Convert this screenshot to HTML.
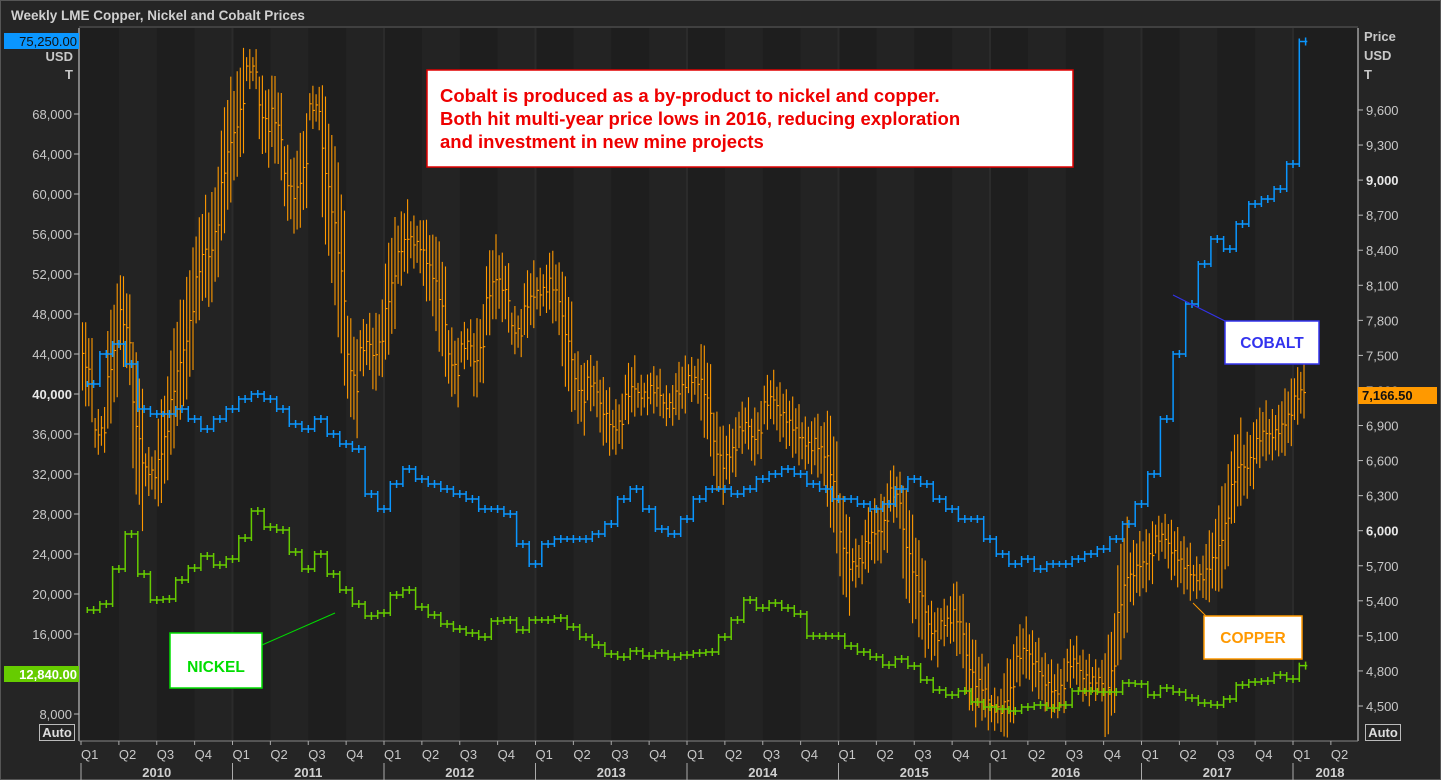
<!DOCTYPE html>
<html><head><meta charset="utf-8"><style>
html,body{margin:0;padding:0;background:#252525;}
body{width:1441px;height:780px;overflow:hidden;font-family:"Liberation Sans",sans-serif;position:relative;}
svg text{font-family:"Liberation Sans",sans-serif;}
</style></head><body>
<svg id="chart" width="1441" height="780" xmlns="http://www.w3.org/2000/svg" style="position:absolute;left:0;top:0">
<rect x="0" y="0" width="1441" height="780" fill="#252525"/>
<rect x="0.5" y="0.5" width="1440" height="779" fill="none" stroke="#555"/>
<text x="11" y="20" font-size="13.5" font-weight="bold" fill="#d0d0d0">Weekly LME Copper, Nickel and Cobalt Prices</text>
<line x1="79" y1="27" x2="1358" y2="27" stroke="#5a5a5a"/>
<g id="bands"></g>
<g id="axes"></g>
<g id="series"></g>
</svg>
<script>
const copper = [7390,6850,7460,7750,6840,6500,6730,7280,7710,8290,8480,9150,
9530,9950,9530,9480,8950,9040,9620,9000,8300,7350,7580,7560,
8040,8440,8460,8280,7950,7420,7590,7510,8070,8060,7710,7960,
8050,8060,7650,7200,7250,7000,6900,7190,7160,7200,7070,7210,
7290,7150,6650,6670,6890,6820,7110,7000,6870,6740,6710,6450,
5830,5730,5940,6040,6300,5830,5460,5130,5220,5220,4800,4640,
4470,4600,4950,4870,4690,4640,4870,4750,4720,4730,5450,5660,
5760,5940,5820,5690,5600,5720,5990,6480,6580,6810,6830,6950,
7166.5];
const nickel = [18400,19000,22500,26000,22000,19400,19500,21400,22600,23800,22900,23500,
25600,28300,26700,26400,24200,22500,24000,22000,20400,19000,17800,18100,
19900,20400,18700,17900,17000,16500,16100,15700,17300,17400,16400,17400,
17400,17600,16700,15700,14900,14000,13700,14300,13800,14100,13700,13900,
14100,14200,15700,17400,19400,18600,19100,18600,18000,15800,15800,15800,
14800,14200,13700,12900,13500,12800,11400,10400,9900,10300,9200,8700,
8500,8300,8700,8900,8600,8900,10300,10300,10200,10200,11100,11000,
9900,10600,10200,9600,9100,8900,9500,10900,11200,11300,11900,11500,
12840];
const cobalt = [41000,44000,45000,43000,38500,38000,38000,38500,37500,36500,37500,38500,
39500,40000,39500,38500,37000,36500,37500,36000,35000,34500,30000,28500,
31000,32500,31500,31000,30500,30000,29500,28500,28500,28000,25000,23000,
25000,25500,25500,25500,26000,27000,29500,30500,28500,26500,26000,27500,
29500,30500,30500,30000,30500,31500,32000,32500,32000,31000,30500,29500,
29500,29000,28500,29000,30500,31500,31000,29500,28500,27500,27500,25500,
24000,23000,23500,22500,23000,23000,23500,24000,24500,25500,27000,29000,
32000,37500,44000,49000,53000,55500,54500,57000,59000,59500,60500,63000,
75250];
const leftTicks = [8000,12000,16000,20000,24000,28000,32000,36000,40000,44000,48000,52000,56000,60000,64000,68000];
const rightTicks = [4500,4800,5100,5400,5700,6000,6300,6600,6900,7200,7500,7800,8100,8400,8700,9000,9300,9600];
const years = [2010,2011,2012,2013,2014,2015,2016,2017,2018];
const quarters = ["Q1","Q2","Q3","Q4"];

const NS="http://www.w3.org/2000/svg";
const X0=81, YEARW=151.5, PL=79, PR=1358, PT=28, PB=741;
function xOf(m){return X0+(m+0.5)*YEARW/12;}
function xQ(q){return X0+q*YEARW/4;}
function yL(v){return 714-(v-8000)/100;}
function yR(v){return 706-(v-4500)*35.06/300;}
function mk(tag,attrs,parent){const e=document.createElementNS(NS,tag);for(const k in attrs)e.setAttribute(k,attrs[k]);parent.appendChild(e);return e;}
const bands=document.getElementById('bands'),axes=document.getElementById('axes'),series=document.getElementById('series');

let bg=mk('rect',{x:PL,y:PT,width:PR-PL,height:PB-PT,fill:'#1e1e1e'},bands);


for(let q=0;q<33;q++){
  const x1=Math.max(PL,xQ(q)),x2=Math.min(PR,xQ(q+1));
  if(x2<=x1)continue;
  if(q%2===1){const r=mk('rect',{x:x1,y:PT,width:x2-x1,height:PB-PT,fill:'#232323'},bands);
  
  }
  if(q%4===0&&q>0){const l=mk('line',{x1:xQ(q),y1:PT,x2:xQ(q),y2:PB,stroke:'#2b2b2b','stroke-width':2},bands);
  
  }
}
let al=mk('line',{x1:PL,y1:PT,x2:PL,y2:PB,stroke:'#ddd'},axes);


let ar=mk('line',{x1:PR,y1:PT,x2:PR,y2:PB,stroke:'#ddd'},axes);


let ab=mk('line',{x1:PL,y1:PB,x2:PR,y2:PB,stroke:'#888'},axes);



leftTicks.forEach(v=>{const y=yL(v);
  const t=mk('line',{x1:74,y1:y,x2:79,y2:y,stroke:'#bbb'},axes);
  
  
  const tx=mk('text',{x:72,y:y+5,'text-anchor':'end','font-size':13,fill:v===40000?'#e8e8e8':'#c8c8c8','font-weight':v===40000?'bold':'normal'},axes);
  tx.textContent=v.toLocaleString('en-US');
  
  
});
rightTicks.forEach(v=>{const y=yR(v);
  const t=mk('line',{x1:1358,y1:y,x2:1363,y2:y,stroke:'#bbb'},axes);
  
  
  const b=(v===9000||v===6000);
  const tx=mk('text',{x:1366,y:y+5,'font-size':13,fill:b?'#e8e8e8':'#c8c8c8','font-weight':b?'bold':'normal'},axes);
  tx.textContent=v.toLocaleString('en-US');
  
  
});
for(let q=0;q<34;q++){const x=xQ(q);if(x>1345)break;
  const t=mk('line',{x1:x,y1:PB,x2:x,y2:PB+4,stroke:'#aaa'},axes);
  
  
  const tx=mk('text',{x:x,y:PB+18,'font-size':13,fill:'#c8c8c8'},axes);
  tx.textContent=quarters[q%4];
  
  
}
years.forEach((yr,i)=>{const x=xQ(i*4);
  const l=mk('line',{x1:x,y1:PB+22,x2:x,y2:780,stroke:'#aaa'},axes);
  
  
  const tx=mk('text',{x:i===years.length-1?x+37:x+YEARW/2,y:777,'text-anchor':'middle','font-size':13,'font-weight':'bold',fill:'#d0d0d0'},axes);
  tx.textContent=yr;
  
  
});

function stepSeries(vals,yf,color,name){
  let d='';
  for(let i=0;i<vals.length;i++){
    const x=xOf(i),y=yf(vals[i]);
    const prev=i>0?yf(vals[i-1]):y;
    const step=YEARW/12;
    // two half-month steps with jagged vertical
    d+=`M${x.toFixed(1)},${(Math.max(prev,y)+3).toFixed(1)}V${(Math.min(prev,y)-3).toFixed(1)}M${x.toFixed(1)},${y.toFixed(1)}H${(x+(i<vals.length-1?step:8)).toFixed(1)}`;
    d+=`M${(x+step/2).toFixed(1)},${(y-4).toFixed(1)}V${(y+4).toFixed(1)}`;
  }
  const p=mk('path',{d:d,stroke:color,'stroke-width':1.5,fill:'none'},series);
  
  
}
function barSeries(vals,yf,color,name){
  let d='';
  const step=YEARW/12;
  for(let i=0;i<vals.length;i++){
    const x=xOf(i),y=yf(vals[i]);
    const prev=i>0?yf(vals[i-1]):y;
    const next=i<vals.length-1?yf(vals[i+1]):y;
    const span=Math.abs(next-prev);
    for(let k=0;k<4;k++){
      const xx=x-step/2+1.5+k*step/4;
      const c=y+(k-1.5)/4*(next-prev)/2;
      const h=12+span*0.35+(k%2)*8;
      d+=`M${xx.toFixed(1)},${(c+h).toFixed(1)}V${(c-h).toFixed(1)}M${xx.toFixed(1)},${(c+(k%2?3:-3)).toFixed(1)}h2`;
    }
  }
  const p=mk('path',{d:d,stroke:color,'stroke-width':1.1,fill:'none'},series);
  
  
}
barSeries(copper,yR,'#ff9900','copper-series');
stepSeries(cobalt,yL,'#0a96ff','cobalt-series');
stepSeries(nickel,yL,'#66cc00','nickel-series');
</script>
<svg style="position:absolute;left:0;top:0" width="1441" height="780" xmlns="http://www.w3.org/2000/svg">
<g>
<rect x="427" y="70" width="646" height="97" fill="#fff" stroke="#e00000" stroke-width="1.5"/>
<text x="440" y="102" font-size="18.5" font-weight="bold" fill="#ee0000">Cobalt is produced as a by-product to nickel and copper.</text>
<text x="440" y="125" font-size="18.5" font-weight="bold" fill="#ee0000">Both hit multi-year price lows in 2016, reducing exploration</text>
<text x="440" y="148" font-size="18.5" font-weight="bold" fill="#ee0000">and investment in new mine projects</text>
</g>
<line x1="1173" y1="295" x2="1225" y2="321" stroke="#3333ee"/>
<g><rect x="1225" y="321" width="94" height="43" fill="#fff" stroke="#3333ee" stroke-width="1.5"/><text x="1272" y="348" text-anchor="middle" font-size="15.5" font-weight="bold" fill="#3333ee">COBALT</text></g>
<line x1="1193" y1="603" x2="1206" y2="616" stroke="#ff9900"/>
<g><rect x="1204" y="616" width="98" height="43" fill="#fff" stroke="#ff9900" stroke-width="1.5"/><text x="1253" y="643" text-anchor="middle" font-size="15.5" font-weight="bold" fill="#ff9900">COPPER</text></g>
<line x1="262" y1="645" x2="335" y2="613" stroke="#00dd00"/>
<g><rect x="170" y="633" width="92" height="55" fill="#fff" stroke="#00dd00" stroke-width="1.5"/><text x="216" y="672" text-anchor="middle" font-size="15.5" font-weight="bold" fill="#00dd00">NICKEL</text></g>
<g><rect x="4" y="33" width="75" height="16" fill="#0a96ff"/><text x="77" y="46" text-anchor="end" font-size="13" fill="#111">75,250.00</text></g>
<text x="73" y="61" text-anchor="end" font-size="13" font-weight="bold" fill="#c8c8c8">USD</text>
<text x="73" y="79" text-anchor="end" font-size="13" font-weight="bold" fill="#c8c8c8">T</text>
<g><rect x="4" y="666" width="75" height="16" fill="#66cc00"/><text x="77" y="679" text-anchor="end" font-size="13" font-weight="bold" fill="#fff">12,840.00</text></g>
<g><rect x="39.5" y="724.5" width="35" height="16" fill="none" stroke="#bbb"/><text x="57" y="737" text-anchor="middle" font-size="13" font-weight="bold" fill="#ddd">Auto</text></g>
<text x="1364" y="41" font-size="13" font-weight="bold" fill="#c8c8c8">Price</text>
<text x="1364" y="60" font-size="13" font-weight="bold" fill="#c8c8c8">USD</text>
<text x="1364" y="79" font-size="13" font-weight="bold" fill="#c8c8c8">T</text>
<g><rect x="1358" y="387" width="79" height="17" fill="#ff9900"/><text x="1362" y="400" font-size="13" font-weight="bold" fill="#111">7,166.50</text></g>
<g><rect x="1365.5" y="724.5" width="35" height="16" fill="none" stroke="#bbb"/><text x="1383" y="737" text-anchor="middle" font-size="13" font-weight="bold" fill="#ddd">Auto</text></g>
</svg>
</body></html>
